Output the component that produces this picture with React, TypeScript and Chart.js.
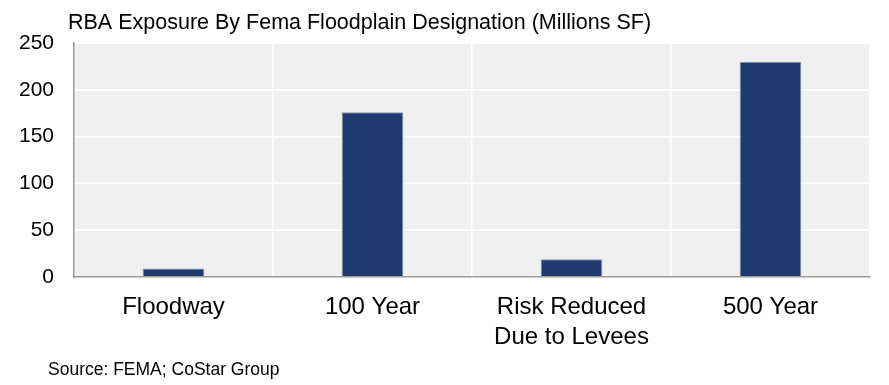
import React, { useEffect, useRef } from "react";
import { Chart, registerables } from "chart.js";

Chart.register(...registerables);

const TITLE = "RBA Exposure By Fema Floodplain Designation (Millions SF)";
const SOURCE = "Source: FEMA; CoStar Group";
const categories: (string | string[])[] = ["Floodway", "100 Year", ["Risk Reduced", "Due to Levees"], "500 Year"];
const values: number[] = [9, 176, 19, 230];
const yTicks: number[] = [0, 50, 100, 150, 200, 250];

const FONT = "'Liberation Sans', Arial, sans-serif";

const decor = {
  id: "decor",
  beforeDraw(chart: any) {
    const { ctx, chartArea } = chart;
    ctx.save();
    ctx.fillStyle = "#f0f0f0";
    ctx.fillRect(chartArea.left, chartArea.top, chartArea.right - chartArea.left, chartArea.bottom - chartArea.top);
    ctx.restore();
  },
  afterDraw(chart: any) {
    const { ctx } = chart;
    ctx.save();
    ctx.fillStyle = "#000";
    ctx.textAlign = "left";
    ctx.textBaseline = "middle";
    ctx.font = `21.5px ${FONT}`;
    ctx.fillText(TITLE, 68, 23);
    ctx.font = `17.5px ${FONT}`;
    ctx.fillText(SOURCE, 48, 370);
    ctx.restore();
  },
};

export default function App() {
  const ref = useRef<HTMLCanvasElement>(null);
  useEffect(() => {
    if (!ref.current) return;
    const chart = new Chart(ref.current, {
      type: "bar",
      data: {
        labels: categories as any,
        datasets: [
          {
            data: values,
            backgroundColor: "#1f3a6e",
            borderColor: "#8d93a6",
            borderWidth: 1,
            barPercentage: 0.31,
            categoryPercentage: 1,
          },
        ],
      },
      plugins: [decor],
      options: {
        animation: false,
        responsive: false,
        maintainAspectRatio: false,
        layout: { padding: { left: 0, right: 19, top: 43, bottom: 0 } },
        plugins: { legend: { display: false }, title: { display: false }, tooltip: { enabled: false } },
        scales: {
          x: {
            grid: { color: "#ffffff", lineWidth: 1.5, drawTicks: false, offset: true },
            border: { display: true, color: "#9a9a9a", width: 1.5 },
            ticks: { color: "#000", font: { family: FONT, size: 24, lineHeight: 1.22 }, padding: 16, maxRotation: 0, autoSkip: false },
            afterFit: (s: any) => { s.height = 108; },
          },
          y: {
            min: 0,
            max: 250,
            afterBuildTicks: (s: any) => { s.ticks = yTicks.map((v) => ({ value: v })); },
            grid: { color: "#ffffff", lineWidth: 2, drawTicks: false },
            border: { display: true, color: "#9a9a9a", width: 1.5 },
            ticks: { color: "#000", font: { family: FONT, size: 21 }, padding: 20 },
            afterFit: (s: any) => { s.width = 74; },
          },
        },
      },
    });
    return () => chart.destroy();
  }, []);
  return (
    <div style={{ position: "fixed", left: 0, top: 0, width: 889, height: 385, background: "#fff" }}>
      <canvas ref={ref} width={889} height={385} style={{ width: 889, height: 385 }} />
    </div>
  );
}
